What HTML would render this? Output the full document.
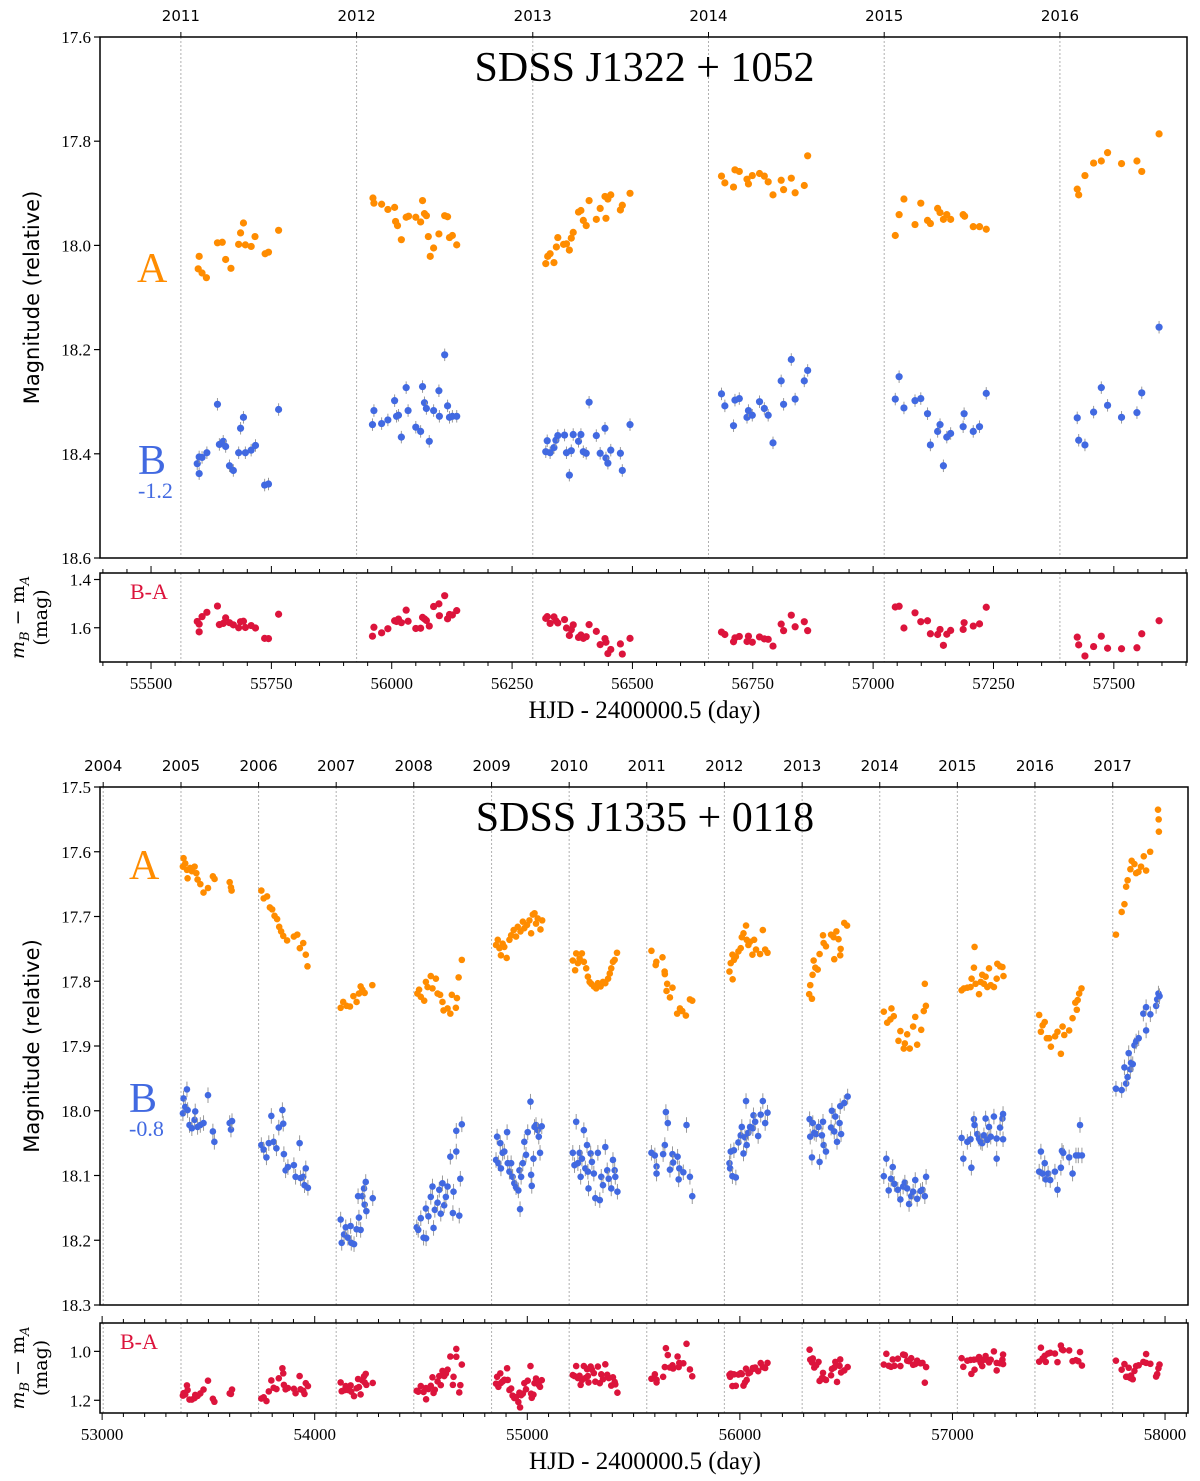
<!DOCTYPE html>
<html><head><meta charset="utf-8">
<style>
html,body{margin:0;padding:0;background:#fff;}
svg{display:block;}
</style></head>
<body>
<svg id="chart" width="1200" height="1481" viewBox="0 0 1200 1481" xmlns="http://www.w3.org/2000/svg">
<rect width="1200" height="1481" fill="#fff"/>
</svg>
<script>
// ===== Panel 1 data: SDSS J1322+1052 =====
const p1DaysA = [55598,55600,55606,55615,55638,55648,55655,55666,55682,55686,55692,55696,55708,55716,55737,55744,55765,
55961,55963,55979,55992,56006,56008,56012,56020,56030,56035,56050,56060,56064,56068,56072,56076,56080,56087,56098,56110,56116,56120,56126,56135,
56320,56324,56329,56337,56342,56345,56357,56363,56369,56373,56377,56388,56393,56398,56404,56410,56425,56433,56443,56445,56449,56455,56475,56479,56495,
56685,56692,56710,56713,56722,56738,56741,56749,56764,56774,56782,56792,56809,56814,56830,56838,56857,56864,
57046,57054,57064,57087,57099,57113,57119,57134,57139,57146,57153,57161,57187,57190,57208,57221,57235,
57424,57427,57440,57458,57474,57487,57516,57548,57558,57594];
const p1MagA = [18.045,18.021,18.053,18.062,17.995,17.994,18.027,18.044,17.998,17.976,17.957,17.999,18.002,17.983,18.016,18.013,17.971,
17.909,17.919,17.921,17.931,17.927,17.954,17.962,17.989,17.946,17.944,17.946,17.955,17.914,17.939,17.943,17.983,18.021,18.005,17.978,17.943,17.945,17.985,17.981,17.999,
18.035,18.021,18.016,18.033,18.003,17.985,17.998,17.997,18.009,17.986,17.975,17.936,17.933,17.952,17.962,17.914,17.950,17.929,17.906,17.948,17.911,17.903,17.932,17.923,17.900,
17.867,17.880,17.888,17.855,17.858,17.873,17.882,17.866,17.862,17.867,17.878,17.903,17.875,17.893,17.871,17.899,17.885,17.828,
17.981,17.941,17.911,17.960,17.919,17.952,17.958,17.929,17.937,17.950,17.941,17.950,17.941,17.944,17.964,17.964,17.969,
17.892,17.903,17.866,17.842,17.838,17.822,17.843,17.838,17.858,17.786];
const p1DaysB = [55596,55600,55600,55606,55616,55638,55642,55650,55655,55663,55671,55682,55686,55692,55696,55708,55717,55736,55744,55765,
55960,55963,55979,55992,56006,56010,56014,56020,56030,56034,56050,56060,56064,56068,56072,56078,56087,56098,56099,56110,56116,56120,56126,56135,
56320,56323,56329,56337,56341,56345,56359,56363,56369,56373,56377,56388,56393,56398,56404,56410,56425,56433,56443,56445,56449,56455,56475,56479,56495,
56685,56692,56710,56713,56722,56738,56741,56749,56764,56774,56782,56792,56809,56814,56830,56838,56857,56864,
57046,57054,57064,57087,57099,57113,57119,57134,57139,57146,57153,57161,57187,57189,57208,57221,57235,
57424,57427,57440,57458,57474,57487,57516,57548,57558,57594];
const p1MagB = [18.419,18.438,18.406,18.407,18.398,18.305,18.382,18.376,18.386,18.423,18.432,18.398,18.351,18.330,18.398,18.393,18.384,18.460,18.458,18.315,
18.344,18.317,18.342,18.335,18.298,18.328,18.326,18.368,18.273,18.317,18.349,18.357,18.271,18.302,18.313,18.376,18.317,18.279,18.328,18.210,18.308,18.330,18.328,18.328,
18.396,18.375,18.398,18.388,18.374,18.365,18.364,18.398,18.441,18.394,18.363,18.376,18.363,18.396,18.399,18.301,18.365,18.399,18.351,18.408,18.418,18.393,18.399,18.432,18.344,
18.285,18.308,18.346,18.297,18.294,18.330,18.317,18.326,18.300,18.313,18.326,18.379,18.260,18.305,18.219,18.295,18.260,18.240,
18.295,18.252,18.312,18.298,18.294,18.323,18.383,18.357,18.344,18.423,18.368,18.361,18.348,18.323,18.357,18.348,18.284,
18.331,18.374,18.383,18.320,18.273,18.307,18.330,18.321,18.283,18.157];
const p1Offset = 1.2;
const p1Years = [2011,2012,2013,2014,2015,2016];
const p1YearDays = [55562,55927,56293,56658,57023,57388];
const p1XTicks = [55500,55750,56000,56250,56500,56750,57000,57250,57500];
const p1YTicks = [17.6,17.8,18.0,18.2,18.4,18.6];
const p1RTicks = [1.4,1.6];

// ===== Panel 2 data: SDSS J1335+0118 =====
const p2DaysA = [53383,53380,53391,53399,53402,53414,53422,53435,53443,53449,53462,53477,53498,53521,53529,53600,53606,53609,
53749,53760,53776,53789,53800,53811,53823,53833,53842,53852,53870,53902,53918,53930,53946,53958,53966,
54122,54134,54150,54166,54182,54197,54208,54216,54224,54235,54271,
54483,54491,54499,54515,54523,54531,54546,54554,54570,54578,54590,54601,54606,54625,54638,54645,54664,54669,54677,54692,
54853,54861,54869,54876,54884,54892,54903,54916,54924,54936,54947,54955,54968,54979,54986,54999,55010,55018,55026,55034,55041,55049,55062,55070,
55214,55225,55230,55238,55246,55257,55266,55277,55285,55293,55301,55313,55324,55332,55345,55356,55367,55380,55388,55395,55403,55411,55422,
55584,55604,55607,55636,55646,55647,55658,55655,55671,55683,55705,55718,55729,55746,55765,55776,
55951,55957,55965,55966,55972,55981,55993,56004,56009,56017,56029,56032,56040,56048,56059,56067,56076,56095,56108,56119,56130,
56326,56331,56339,56342,56347,56355,56366,56375,56391,56394,56405,56429,56441,56444,56454,56464,56472,56474,56491,56504,
56677,56693,56708,56713,56724,56746,56755,56771,56776,56787,56799,56815,56825,56834,56853,56865,56875,56870,
57043,57054,57070,57085,57090,57101,57104,57109,57125,57133,57140,57148,57156,57164,57172,57180,57195,57208,57211,57224,57235,57240,
57408,57416,57424,57434,57444,57455,57463,57483,57494,57510,57518,57526,57549,57565,57578,57585,57589,57596,57607,
57769,57796,57809,57817,57824,57837,57843,57856,57864,57875,57887,57900,57911,57930,57971,57967,57970];
const p2MagA = [17.610,17.623,17.618,17.628,17.641,17.625,17.630,17.623,17.633,17.643,17.650,17.663,17.656,17.638,17.642,17.647,17.655,17.660,
17.660,17.672,17.669,17.686,17.689,17.699,17.704,17.716,17.723,17.730,17.737,17.731,17.728,17.749,17.741,17.759,17.777,
17.841,17.832,17.838,17.839,17.823,17.832,17.819,17.808,17.813,17.818,17.806,
17.819,17.813,17.824,17.830,17.801,17.809,17.792,17.811,17.796,17.819,17.821,17.832,17.845,17.842,17.850,17.821,17.841,17.826,17.794,17.767,
17.744,17.736,17.749,17.760,17.742,17.747,17.764,17.736,17.729,17.721,17.731,17.716,17.723,17.708,17.718,17.713,17.706,17.726,17.697,17.695,17.711,17.703,17.720,17.706,
17.768,17.783,17.757,17.772,17.765,17.757,17.770,17.780,17.793,17.801,17.804,17.808,17.811,17.803,17.808,17.801,17.803,17.796,17.788,17.780,17.770,17.767,17.756,
17.753,17.775,17.770,17.763,17.785,17.789,17.804,17.815,17.825,17.810,17.850,17.842,17.846,17.853,17.828,17.830,
17.785,17.772,17.759,17.797,17.767,17.762,17.754,17.749,17.732,17.726,17.714,17.736,17.744,17.739,17.759,17.736,17.751,17.758,17.721,17.751,17.756,
17.820,17.806,17.827,17.790,17.768,17.779,17.782,17.758,17.729,17.741,17.746,17.728,17.732,17.766,17.723,17.735,17.760,17.750,17.710,17.714,
17.847,17.864,17.859,17.842,17.854,17.892,17.877,17.904,17.896,17.882,17.904,17.870,17.855,17.898,17.875,17.846,17.838,17.804,
17.814,17.811,17.810,17.809,17.796,17.779,17.747,17.804,17.820,17.801,17.790,17.804,17.793,17.809,17.780,17.806,17.809,17.796,17.773,17.777,17.778,17.792,
17.852,17.878,17.868,17.863,17.888,17.888,17.901,17.885,17.878,17.912,17.870,17.883,17.876,17.857,17.833,17.844,17.829,17.819,17.811,
17.728,17.693,17.681,17.654,17.644,17.627,17.614,17.619,17.633,17.631,17.623,17.607,17.629,17.600,17.569,17.535,17.550];
const p2DaysB = [53383,53380,53391,53399,53402,53411,53422,53435,53438,53449,53462,53477,53498,53521,53528,53600,53606,53611,
53749,53760,53773,53784,53796,53807,53820,53831,53848,53852,53855,53863,53874,53902,53910,53929,53933,53946,53958,53952,53968,
54122,54127,54138,54146,54156,54169,54172,54185,54197,54208,54216,54224,54232,54235,54240,54243,54204,54273,
54480,54487,54499,54512,54523,54524,54535,54546,54554,54559,54565,54578,54586,54593,54601,54609,54617,54625,54638,54650,54653,54666,54666,54680,54685,54692,
54853,54858,54864,54873,54876,54884,54892,54905,54908,54916,54924,54931,54939,54947,54958,54963,54966,54971,54979,54986,54994,55002,55015,55018,55021,55029,55034,55041,55049,55054,55060,55068,
55214,55222,55230,55238,55246,55251,55257,55266,55273,55281,55285,55288,55298,55304,55313,55320,55332,55341,55348,55356,55367,55376,55383,55395,55403,55411,55414,55424,
55584,55600,55608,55608,55652,55661,55647,55639,55683,55686,55707,55671,55715,55712,55734,55749,55765,55776,
55951,55954,55957,55965,55972,55981,55993,56004,56009,56017,56024,56029,56032,56040,56048,56061,56064,56072,56086,56098,56108,56119,56130,
56328,56331,56339,56343,56350,56359,56370,56375,56391,56394,56405,56386,56429,56433,56444,56449,56457,56469,56476,56472,56491,56507,
56677,56689,56700,56711,56719,56727,56743,56755,56768,56776,56787,56796,56806,56815,56825,56834,56850,56859,56870,56876,
57043,57051,57070,57089,57085,57101,57104,57117,57125,57133,57140,57148,57156,57164,57172,57180,57195,57208,57208,57224,57235,57238,57238,
57408,57416,57424,57434,57439,57450,57460,57482,57494,57510,57515,57521,57549,57565,57581,57592,57600,57609,
57769,57796,57817,57824,57809,57837,57840,57848,57829,57856,57864,57876,57911,57898,57911,57931,57958,57963,57969,57974];
const p2MagB = [17.981,18.004,17.994,17.967,17.999,18.022,18.027,18.014,18.001,18.025,18.022,18.019,17.976,18.032,18.048,18.019,18.029,18.016,
18.053,18.060,18.072,18.050,18.008,18.048,18.058,18.026,17.999,18.020,18.067,18.092,18.087,18.084,18.102,18.050,18.104,18.102,18.089,18.115,18.119,
18.168,18.204,18.191,18.180,18.196,18.178,18.204,18.206,18.183,18.165,18.184,18.132,18.120,18.145,18.110,18.155,18.132,18.135,
18.180,18.184,18.166,18.196,18.151,18.197,18.163,18.133,18.117,18.181,18.153,18.142,18.122,18.159,18.112,18.146,18.133,18.117,18.071,18.158,18.125,18.063,18.031,18.162,18.105,18.021,
18.076,18.040,18.081,18.050,18.089,18.065,18.063,18.033,18.081,18.094,18.081,18.102,18.112,18.118,18.123,18.092,18.152,18.102,18.081,18.048,18.068,18.033,17.986,18.099,18.116,18.074,18.025,18.022,18.030,18.040,18.065,18.024,
18.065,18.084,18.017,18.081,18.065,18.102,18.074,18.030,18.089,18.053,18.094,18.120,18.066,18.079,18.097,18.135,18.065,18.138,18.102,18.115,18.056,18.092,18.105,18.120,18.076,18.092,18.102,18.125,
18.065,18.069,18.086,18.097,18.002,18.019,18.053,18.067,18.067,18.080,18.071,18.091,18.089,18.106,18.095,18.022,18.102,18.132,
18.081,18.089,18.063,18.101,18.061,18.103,18.049,18.038,18.025,18.066,18.041,17.985,18.053,18.034,18.025,18.027,18.007,18.017,18.039,18.006,17.985,18.019,18.003,
18.013,18.040,18.072,18.019,18.034,18.036,18.025,18.079,18.017,18.053,18.063,18.038,18.026,18.000,18.032,18.009,18.048,18.019,18.036,17.993,17.988,17.978,
18.101,18.074,18.123,18.105,18.087,18.113,18.122,18.137,18.117,18.111,18.120,18.144,18.132,18.125,18.107,18.136,18.124,18.122,18.132,18.102,
18.042,18.074,18.048,18.088,18.044,18.013,18.022,18.036,18.043,18.048,18.050,18.038,18.012,18.045,18.025,18.040,18.009,18.043,18.074,18.026,18.012,18.005,18.044,
18.094,18.063,18.097,18.081,18.106,18.097,18.107,18.094,18.122,18.088,18.062,18.065,18.072,18.097,18.069,18.069,18.022,18.069,
17.966,17.968,17.958,17.948,17.933,17.936,17.926,17.928,17.911,17.899,17.893,17.888,17.876,17.850,17.840,17.851,17.838,17.828,17.819,17.823];
const p2Offset = 0.8;
const p2Years = [2004,2005,2006,2007,2008,2009,2010,2011,2012,2013,2014,2015,2016,2017];
const p2YearDays = [53005,53371,53736,54101,54466,54832,55197,55562,55927,56293,56658,57023,57388,57754];
const p2XTicks = [53000,54000,55000,56000,57000,58000];
const p2YTicks = [17.5,17.6,17.7,17.8,17.9,18.0,18.1,18.2,18.3];
const p2RTicks = [1.0,1.2];

const NS = 'http://www.w3.org/2000/svg';
const svg = document.getElementById('chart');
function mk(tag, attrs, parent, text){
  const e = document.createElementNS(NS, tag);
  for (const k in attrs) e.setAttribute(k, attrs[k]);
  if (text !== undefined) e.textContent = text;
  (parent || svg).appendChild(e);
  return e;
}
function lin(d0,d1,r0,r1){ return v => r0 + (v-d0)/(d1-d0)*(r1-r0); }

function residuals(dB, mB, dA, mA, off){
  const rd=[], rv=[];
  for (let i=0;i<dB.length;i++){
    let best=-1, bd=1e9;
    for (let j=0;j<dA.length;j++){ const dd=Math.abs(dA[j]-dB[i]); if(dd<bd){bd=dd;best=j;} }
    if (best>=0 && bd<=25){ rd.push(dB[i]); rv.push(mB[i]+off-mA[best]); }
  }
  return [rd, rv];
}

function drawPanel(cfg){
  const g = mk('g', {}, svg);
  
  
  const X = lin(cfg.xd[0], cfg.xd[1], cfg.x0, cfg.x1);
  const Y = lin(cfg.yd[0], cfg.yd[1], cfg.y0, cfg.y1);
  const R = lin(cfg.rd[0], cfg.rd[1], cfg.ry0, cfg.ry1);
  const serif = '"Liberation Serif", "DejaVu Serif", serif';

  cfg.yearDays.forEach((d,i)=>{
    const x = X(d);
    if (x >= cfg.x0-1 && x <= cfg.x1) {
      const l1 = mk('line',{x1:x,x2:x,y1:cfg.y0,y2:cfg.y1,stroke:'#b0b0b0','stroke-width':1,'stroke-dasharray':'2,2'},g);
      
      
      const l2 = mk('line',{x1:x,x2:x,y1:cfg.ry0,y2:cfg.ry1,stroke:'#b0b0b0','stroke-width':1,'stroke-dasharray':'2,2'},g);
      
      
      mk('line',{x1:x,x2:x,y1:cfg.y0,y2:cfg.y0-5,stroke:'#000','stroke-width':1},g);
    }
    const t = mk('text',{x:x,y:cfg.y0-16,'text-anchor':'middle','font-family':'"DejaVu Sans", sans-serif','font-size':15,fill:'#000'},g,String(cfg.years[i]));
    
    
  });

  const f1 = mk('rect',{x:cfg.x0,y:cfg.y0,width:cfg.x1-cfg.x0,height:cfg.y1-cfg.y0,fill:'none',stroke:'#000','stroke-width':1.5},g);
  
  
  const f2 = mk('rect',{x:cfg.x0,y:cfg.ry0,width:cfg.x1-cfg.x0,height:cfg.ry1-cfg.ry0,fill:'none',stroke:'#000','stroke-width':1.5},g);
  
  

  cfg.yTicks.forEach(v=>{
    const y = Y(v);
    mk('line',{x1:cfg.x0-6,x2:cfg.x0,y1:y,y2:y,stroke:'#000','stroke-width':1.2},g);
    const t = mk('text',{x:cfg.x0-9,y:y+6,'text-anchor':'end','font-family':serif,'font-size':17,fill:'#000'},g,v.toFixed(1));
    
    
  });
  cfg.rTicks.forEach(v=>{
    const y = R(v);
    mk('line',{x1:cfg.x0-6,x2:cfg.x0,y1:y,y2:y,stroke:'#000','stroke-width':1.2},g);
    const t = mk('text',{x:cfg.x0-9,y:y+6,'text-anchor':'end','font-family':serif,'font-size':17,fill:'#000'},g,v.toFixed(1));
    
    
  });
  for (let d = Math.ceil(cfg.xd[0]/cfg.minor)*cfg.minor; d <= cfg.xd[1]; d += cfg.minor){
    const x = X(d);
    const major = cfg.xTicks.indexOf(d) >= 0;
    const len = major ? 7 : 4;
    mk('line',{x1:x,x2:x,y1:cfg.ry1,y2:cfg.ry1+len,stroke:'#000','stroke-width':1},g);
    mk('line',{x1:x,x2:x,y1:cfg.ry0,y2:cfg.ry0-len,stroke:'#000','stroke-width':1},g);
  }
  cfg.xTicks.forEach(d=>{
    const t = mk('text',{x:X(d),y:cfg.ry1+27,'text-anchor':'middle','font-family':serif,'font-size':17,fill:'#000'},g,String(d));
    
    
  });

  function series(days, mags, color, r, err, nm){
    const sg = mk('g',{},g);
    
    
    for (let i=0;i<days.length;i++){
      const x = X(days[i]), y = Y(mags[i]);
      mk('line',{x1:x,x2:x,y1:Y(mags[i]-err),y2:Y(mags[i]+err),stroke:'#999','stroke-width':1},sg);
      const c = mk('circle',{cx:x,cy:y,r:r,fill:color},sg);
      
      
    }
  }
  series(cfg.dA, cfg.mA, '#ff8c00', cfg.r, cfg.errA, 'image-a-series');
  series(cfg.dB, cfg.mB, '#4169e1', cfg.r, cfg.errB, 'image-b-series');
  const [rd, rv] = residuals(cfg.dB, cfg.mB, cfg.dA, cfg.mA, cfg.off);
  const rg = mk('g',{},g);
  
  
  for (let i=0;i<rd.length;i++){
    const x = X(rd[i]), y = R(rv[i]);
    if (y < cfg.ry0 || y > cfg.ry1) continue;
    mk('line',{x1:x,x2:x,y1:R(rv[i]-cfg.errB),y2:R(rv[i]+cfg.errB),stroke:'#999','stroke-width':1},rg);
    const c = mk('circle',{cx:x,cy:y,r:cfg.r,fill:'#dc143c'},rg);
    
    
  }

  const cx = (cfg.x0+cfg.x1)/2 + 1;
  const title = mk('text',{x:cx,y:cfg.y0+44,'text-anchor':'middle','font-family':'"Liberation Serif", serif','font-size':42,fill:'#000'},g,cfg.title);
  
  
  const la = mk('text',{x:cfg.aX,y:cfg.aY,'font-family':'"Liberation Serif", serif','font-size':42,fill:'#ff8c00'},g,'A');
  
  
  const lb = mk('text',{x:cfg.bX,y:cfg.bY,'font-family':'"Liberation Serif", serif','font-size':42,fill:'#4169e1'},g,'B');
  
  
  const lo = mk('text',{x:cfg.bX,y:cfg.bY+24,'font-family':'"Liberation Serif", serif','font-size':22,fill:'#4169e1'},g,cfg.offText);
  
  
  const lba = mk('text',{x:cfg.baX,y:cfg.ry0+26,'font-family':'"Liberation Serif", serif','font-size':22,fill:'#dc143c'},g,'B-A');
  
  

  const ymid = (cfg.y0+cfg.y1)/2;
  const yl = mk('text',{x:0,y:0,transform:`translate(39,${ymid}) rotate(-90)`,'text-anchor':'middle','font-family':'"DejaVu Sans", sans-serif','font-size':21,fill:'#000'},g,'Magnitude (relative)');
  
  
  const rmid = (cfg.ry0+cfg.ry1)/2;
  const rl = mk('text',{x:0,y:0,transform:`translate(24,${rmid}) rotate(-90)`,'text-anchor':'middle','font-family':'"DejaVu Serif", serif','font-size':19,'font-style':'italic',fill:'#000'},g);
  
  
  mk('tspan',{},rl,'m');
  mk('tspan',{'font-size':13,dy:5},rl,'B');
  mk('tspan',{dy:-5,'font-style':'normal'},rl,' − m');
  mk('tspan',{'font-size':13,dy:5},rl,'A');
  const rl2 = mk('text',{x:0,y:0,transform:`translate(47,${rmid}) rotate(-90)`,'text-anchor':'middle','font-family':'"DejaVu Serif", serif','font-size':19,fill:'#000'},g,'(mag)');
  
  
  const xl = mk('text',{x:cx,y:cfg.ry1+56,'text-anchor':'middle','font-family':'"Liberation Serif", serif','font-size':25,fill:'#000'},g,'HJD - 2400000.5 (day)');
  
  
}

drawPanel({name:'panel-j1322', x0:100, x1:1187, xd:[55394,57652], y0:37, y1:558, yd:[17.6,18.6],
  ry0:573, ry1:662, rd:[1.373,1.742], dA:p1DaysA, mA:p1MagA, dB:p1DaysB, mB:p1MagB, off:p1Offset,
  years:p1Years, yearDays:p1YearDays, xTicks:p1XTicks, minor:50, yTicks:p1YTicks, rTicks:p1RTicks,
  r:3.6, errA:0.004, errB:0.012, title:'SDSS J1322 + 1052', aX:137, aY:282, bX:138, bY:474, offText:'-1.2', baX:130});

drawPanel({name:'panel-j1335', x0:100, x1:1188, xd:[52990,58108], y0:787, y1:1305, yd:[17.5,18.3],
  ry0:1323, ry1:1413, rd:[0.884,1.252], dA:p2DaysA, mA:p2MagA, dB:p2DaysB, mB:p2MagB, off:p2Offset,
  years:p2Years, yearDays:p2YearDays, xTicks:p2XTicks, minor:100, yTicks:p2YTicks, rTicks:p2RTicks,
  r:3.3, errA:0.004, errB:0.012, title:'SDSS J1335 + 0118', aX:129, aY:879, bX:129, bY:1112, offText:'-0.8', baX:120});
</script>
</body></html>
